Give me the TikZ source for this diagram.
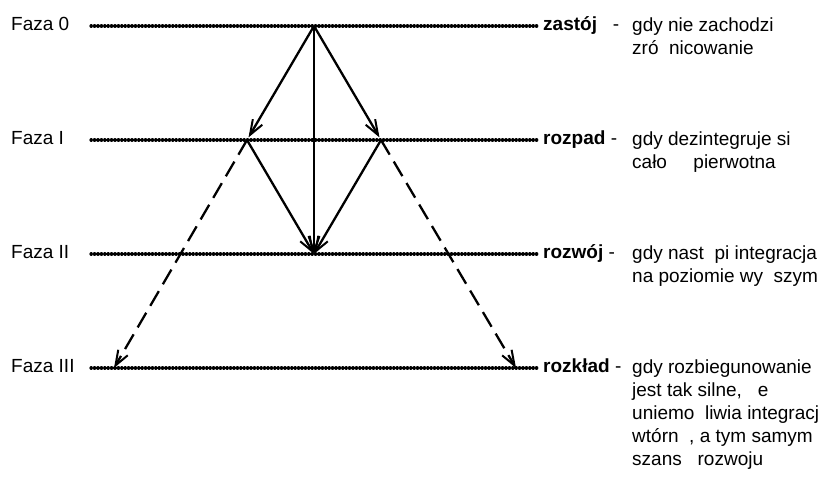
\documentclass[tikz,border=0pt]{standalone}
\usepackage{fontspec}
\setmainfont{Liberation Sans}
\usetikzlibrary{arrows.meta}

\tikzset{
  level/.style={line width=3.2pt, line cap=round, dash pattern=on 0.4pt off 3pt},
  phase/.style={anchor=base west, inner sep=0pt},
  key/.style={anchor=base west, inner sep=0pt, font=\fontsize{19}{23}\selectfont\bfseries},
  desc/.style={anchor=base west, inner sep=0pt},
  flow/.style={line width=2.3pt, -{Straight Barb[length=15pt,width=11pt,line width=2pt]}},
  jump/.style={flow, dash pattern=on 17pt off 8pt},
}
\newcommand{\lines}[1]{\begin{tabular}[t]{@{}l@{}}#1\end{tabular}}

\begin{document}
\begin{tikzpicture}[x=1pt,y=-1pt,font=\fontsize{19}{23}\selectfont]
  \useasboundingbox (0,0) rectangle (828,478);

  % levels
  \foreach \name/\y in {l0/26,l1/140,l2/254,l3/368}{
    \coordinate (\name a) at (91,\y);
    \coordinate (\name b) at (538,\y);
    \draw[level] (\name a) -- (\name b);
  }

  % phase names on the left
  \node[phase] (f0) at (11,31)  {Faza 0};
  \node[phase] (f1) at (11,145) {Faza I};
  \node[phase] (f2) at (11,259) {Faza II};
  \node[phase] (f3) at (11,373) {Faza III};

  % states on the right
  \node[key] (k0) at (543,31)  {zastój~~~\textmd{-}};
  \node[key] (k1) at (543,145) {rozpad~\textmd{-}};
  \node[key] (k2) at (543,259) {rozwój~\textmd{-}};
  \node[key] (k3) at (543,373) {rozkład~\textmd{-}};

  \node[desc] (d0) at (632,32)  {\lines{gdy nie zachodzi\\zró~~nicowanie}};
  \node[desc] (d1) at (632,146) {\lines{gdy dezintegruje si\\cało~~~~~pierwotna}};
  \node[desc] (d2) at (632,260) {\lines{gdy nast~~pi integracja\\na poziomie wy~~szym}};
  \node[desc] (d3) at (632,374) {\lines{gdy rozbiegunowanie\\jest tak silne,~~~e\\uniemo~~liwia integracj\\wtórn~~, a tym samym\\szans~~~rozwoju}};

  % points of the scheme
  \coordinate (p0) at (314,26);
  \coordinate (p1l) at (247,140);
  \coordinate (p1r) at (381,140);
  \coordinate (p2) at (314,254);
  \coordinate (p3l) at (114,368);
  \coordinate (p3r) at (516,368);

  % transitions
  \draw[flow, shorten >=3pt] (p0) -- (p1l);
  \draw[flow, shorten >=3pt] (p0) -- (p1r);
  \draw[flow] (p0) -- (p2);
  \draw[flow] (p1l) -- (p2);
  \draw[flow] (p1r) -- (p2);
  \draw[jump] (p1l) -- (p3l);
  \draw[jump] (p1r) -- (p3r);
\end{tikzpicture}
\end{document}
